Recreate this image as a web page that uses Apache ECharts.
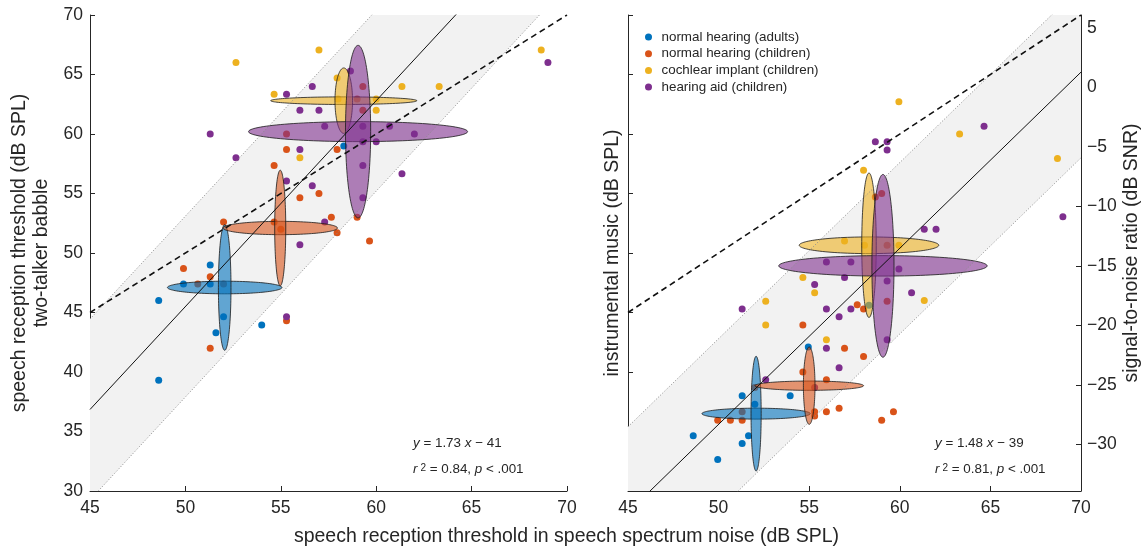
<!DOCTYPE html>
<html><head><meta charset="utf-8">
<script src="https://cdn.jsdelivr.net/npm/echarts@6/dist/echarts.min.js"></script>
<style>html,body{margin:0;padding:0;background:#fff}#c{width:1143px;height:548px}</style>
</head><body><div id="c"></div>
<script>
// ---------- data ----------
const groupNames = ['normal hearing (adults)', 'normal hearing (children)', 'cochlear implant (children)', 'hearing aid (children)'];
const groupColors = ['#0072BD', '#D95319', '#EDB120', '#7E2F8E'];
const xTicks = [45, 50, 55, 60, 65, 70];
const splTicks = [30, 35, 40, 45, 50, 55, 60, 65, 70];
const snrTicks = [-30, -25, -20, -15, -10, -5, 0, 5];
const snrOffset = 63.9; // music level (dB SPL) at 0 dB SNR

// left panel: speech-noise SRT (x) vs two-talker babble SRT (y)
const babbleNHAdults = [[51.3,49.0],[49.9,47.4],[51.3,47.4],[48.6,46.0],[52.0,44.65],[51.6,43.3],[54.0,43.95],[48.6,39.3],[58.3,59.0]];
const babbleNHChildren = [[52.0,52.6],[49.9,48.7],[51.3,48.0],[50.65,47.4],[52.0,47.4],[51.3,42.0],[55.3,44.3],[54.65,52.6],[57.65,53.0],[57.95,51.7],[59.3,64.0],[59.0,62.95],[59.3,62.0],[55.3,60.0],[55.3,58.7],[57.95,58.7],[54.65,57.35],[56.0,54.65],[57.0,55.0],[59.0,53.0],[59.65,51.0],[55.0,52.0]];
const babbleCI = [[52.65,66.0],[57.0,67.05],[54.65,63.35],[57.95,64.7],[61.35,64.0],[63.3,64.0],[60.0,62.0],[60.0,62.95],[56.0,58.0],[58.0,62.95],[68.65,67.05]];
const babbleHA = [[55.3,63.35],[56.65,64.0],[58.65,65.3],[56.0,62.0],[57.0,62.0],[57.3,60.65],[59.3,60.65],[60.7,60.65],[62.0,60.0],[59.3,59.35],[60.0,59.35],[56.0,58.7],[52.65,58.0],[59.3,57.35],[61.35,56.65],[55.3,56.05],[56.65,55.65],[59.3,54.65],[57.3,52.6],[56.0,50.7],[51.3,60.0],[69.0,66.0],[55.3,44.65]];

// right panel: speech-noise SRT (x) vs instrumental music SRT (y, dB SPL)
const musicNHAdults = [[48.6,34.65],[49.95,32.65],[51.3,38.0],[51.3,34.0],[51.65,34.65],[52.0,37.3],[53.95,38.0],[54.95,42.1],[58.3,45.6]];
const musicNHChildren = [[49.95,35.95],[50.65,35.95],[51.3,35.95],[51.3,36.65],[52.0,38.7],[54.65,40.0],[55.3,36.65],[55.3,36.3],[55.95,36.65],[56.65,36.95],[55.95,39.35],[56.95,42.0],[58.0,41.3],[54.65,43.95],[57.65,45.65],[58.0,45.3],[59.3,45.95],[59.3,50.65],[59.0,35.95],[59.65,36.65],[59.0,55.0],[58.65,54.7]];
const musicCI = [[56.95,51.0],[58.05,50.65],[59.95,50.65],[54.65,47.95],[55.3,46.65],[52.6,45.95],[52.6,43.95],[55.95,42.7],[59.95,62.7],[63.3,60.0],[58.0,56.95],[68.7,57.95],[61.35,46.0]];
const musicHA = [[55.95,49.25],[57.3,49.25],[56.95,47.95],[55.3,47.35],[59.95,48.65],[59.3,47.65],[60.65,46.65],[51.3,45.3],[55.95,45.3],[57.3,45.3],[56.65,44.65],[55.95,42.0],[56.65,40.35],[59.3,42.7],[52.6,39.35],[55.3,38.7],[64.65,60.65],[58.65,59.35],[59.3,59.35],[59.3,58.65],[69.0,53.05],[61.35,52.0],[62.0,52.0]];

// group ellipses: [meanX, meanY, sdX, sdY, thinX, thinY]
const babbleEllipses = [[52.06,47.1,3.0,5.28,0.33,0.53],[54.97,52.1,3.0,4.86,0.29,0.56],[58.3,62.8,3.83,2.75,0.46,0.32],[59.05,60.2,5.74,7.25,0.66,0.84]];
const musicEllipses = [[52.07,36.5,2.99,4.82,0.28,0.46],[55.0,38.85,3.0,3.25,0.32,0.39],[58.3,50.65,3.85,6.07,0.4,0.7],[59.07,48.92,5.75,7.68,0.61,0.86]];

// fits: [slope, intercept, prediction band half-width]
const babbleFit = [1.73, -41, 7.6];
const musicFit = [1.48, -38.4, 7.2];
const identityLine = [1, 0];
const babbleStats = ['1.73', '41', '0.84', '.001'];
const musicStats = ['1.48', '39', '0.81', '.001'];

// ---------- helpers ----------
const F = '"Liberation Sans", Arial, Helvetica, sans-serif';
const INK = '#262626';
const TICK_FS = 17.5, TITLE_FS = 19.5;
function rgba(hex, a){const n=parseInt(hex.slice(1),16);return 'rgba('+(n>>16)+','+((n>>8)&255)+','+(n&255)+','+a+')';}
function lineData(fit, off){off=off||0;return xTicks.filter((v,i)=>i===0||i===xTicks.length-1).map(x=>[x, fit[0]*x+fit[1]+off]);}
function ellipseItems(ells){const out=[];ells.forEach((e,g)=>{out.push([e[0],e[1],e[2],e[5],g]);out.push([e[0],e[1],e[4],e[3],g]);});return out;}
function ellipseRender(params, api){
  const cx=api.value(0), cy=api.value(1), rx=api.value(2), ry=api.value(3), g=api.value(4);
  const pts=[];
  for(let k=0;k<120;k++){const t=k/120*2*Math.PI;pts.push(api.coord([cx+rx*Math.cos(t), cy+ry*Math.sin(t)]));}
  return {type:'polygon', shape:{points:pts}, style:{fill:rgba(groupColors[g],0.6), stroke:'#1a1a1a', lineWidth:0.8}};
}
function bandRender(fit){
  return function(params, api){
    const x0=xTicks[0], x1=xTicks[xTicks.length-1];
    const pts=[[x0,fit[0]*x0+fit[1]-fit[2]],[x1,fit[0]*x1+fit[1]-fit[2]],[x1,fit[0]*x1+fit[1]+fit[2]],[x0,fit[0]*x0+fit[1]+fit[2]]].map(p=>api.coord(p));
    const cs=params.coordSys;
    return {type:'polygon', shape:{points:pts}, clipPath:{type:'rect', shape:{x:cs.x,y:cs.y,width:cs.width,height:cs.height}}, style:{fill:'#f2f2f2'}, silent:true};
  };
}
function lineSeries(idx, data, style){return {type:'line', xAxisIndex:idx, yAxisIndex:idx, data:data, symbol:'none', silent:true, lineStyle:style, z:5};}

const axisCommon = {
  axisLine:{show:true, onZero:false, lineStyle:{color:INK, width:1}},
  axisTick:{show:true, inside:true, length:5, lineStyle:{color:INK}},
  splitLine:{show:false},
  axisLabel:{color:INK, fontSize:TICK_FS, fontFamily:F, formatter:v=>String(v).replace('-', '\u2212')}
};
const nameStyle = {fontSize:TITLE_FS, fontFamily:F, color:INK, lineHeight:22};

const babbleSets = [babbleNHAdults, babbleNHChildren, babbleCI, babbleHA];
const musicSets = [musicNHAdults, musicNHChildren, musicCI, musicHA];

const series = [];
series.push({type:'custom', xAxisIndex:0, yAxisIndex:0, data:[[0]], renderItem:bandRender(babbleFit), z:1});
series.push({type:'custom', xAxisIndex:1, yAxisIndex:1, data:[[0]], renderItem:bandRender(musicFit), z:1});
[[0,babbleSets],[1,musicSets]].forEach(([idx, sets])=>{
  sets.forEach((d,g)=>series.push({type:'scatter', name:groupNames[g], xAxisIndex:idx, yAxisIndex:idx, data:d, symbolSize:7, itemStyle:{color:groupColors[g], opacity:1}, z:2}));
});
series.push({type:'custom', xAxisIndex:0, yAxisIndex:0, data:ellipseItems(babbleEllipses), encode:{x:0,y:1}, renderItem:ellipseRender, z:3});
series.push({type:'custom', xAxisIndex:1, yAxisIndex:1, data:ellipseItems(musicEllipses), encode:{x:0,y:1}, renderItem:ellipseRender, z:3});
const dotted = {color:'#8c8c8c', width:1, type:[1,2]};
[[0,babbleFit],[1,musicFit]].forEach(([idx,fit])=>{
  series.push(lineSeries(idx, lineData(fit, fit[2]), dotted));
  series.push(lineSeries(idx, lineData(fit, -fit[2]), dotted));
  series.push(lineSeries(idx, lineData(fit), {color:'#111', width:1}));
  series.push(lineSeries(idx, lineData(identityLine), {color:'#111', width:1.6, type:[6,4]}));
});

function statText(x, y, s){
  const rich = {i:{fontStyle:'italic', fontSize:13.4, fontFamily:F, fill:INK}, s:{fontSize:10, fontFamily:F, verticalAlign:'top', fill:INK, padding:[0,0,0,3]}};
  return [
    {type:'text', left:x, top:y, style:{text:'{i|y} = '+s[0]+' {i|x} \u2212 '+s[1], rich:rich, fontSize:13.4, fontFamily:F, fill:INK}},
    {type:'text', left:x, top:y+26, style:{text:'{i|r}{s|2} = '+s[2]+', {i|p} < '+s[3], rich:rich, fontSize:13.4, fontFamily:F, fill:INK}}
  ];
}

const option = {
  animation:false,
  backgroundColor:'#fff',
  grid:[
    {left:90, right:576, top:15, bottom:57, outerBoundsMode:'none', containLabel:false},
    {left:628, right:62, top:15, bottom:57, outerBoundsMode:'none', containLabel:false}
  ],
  xAxis:[
    Object.assign({}, axisCommon, {type:'value', gridIndex:0, min:45, max:70, interval:5, axisLabel:Object.assign({}, axisCommon.axisLabel, {margin:8})}),
    Object.assign({}, axisCommon, {type:'value', gridIndex:1, min:45, max:70, interval:5, axisLabel:Object.assign({}, axisCommon.axisLabel, {margin:8})})
  ],
  yAxis:[
    Object.assign({}, axisCommon, {type:'value', gridIndex:0, min:30, max:70, interval:5,
      axisLabel:Object.assign({}, axisCommon.axisLabel, {margin:7}),
      name:'speech reception threshold (dB SPL)\ntwo-talker babble', nameLocation:'middle', nameGap:37,
      nameTextStyle:nameStyle}),
    Object.assign({}, axisCommon, {type:'value', gridIndex:1, min:30, max:70, interval:5,
      axisLabel:{show:false},
      name:'instrumental music (dB SPL)', nameLocation:'middle', nameGap:4.5,
      nameTextStyle:nameStyle}),
    Object.assign({}, axisCommon, {type:'value', gridIndex:1, position:'right', min:splTicks[0]-snrOffset, max:splTicks[splTicks.length-1]-snrOffset,
      axisTick:Object.assign({}, axisCommon.axisTick, {customValues:snrTicks}),
      axisLabel:Object.assign({}, axisCommon.axisLabel, {margin:6, customValues:snrTicks}),
      name:'signal-to-noise ratio (dB SNR)', nameLocation:'middle', nameGap:38,
      nameTextStyle:nameStyle})
  ],
  legend:{data:groupNames, orient:'vertical', left:640, top:25, icon:'circle', itemWidth:16, itemHeight:7, itemGap:2.7,
    textStyle:{fontSize:13.4, fontFamily:F, color:INK, lineHeight:14}, selectedMode:false},
  graphic:[
    {type:'text', x:566.5, y:537, style:{text:'speech reception threshold in speech spectrum noise (dB SPL)', fontSize:TITLE_FS, fontFamily:F, fill:INK, align:'center', verticalAlign:'middle'}}
  ].concat(statText(413, 437, babbleStats), statText(935, 437, musicStats)),
  series:series
};
const chart = echarts.init(document.getElementById('c'), null, {renderer:'canvas'});
chart.setOption(option);
</script></body></html>
